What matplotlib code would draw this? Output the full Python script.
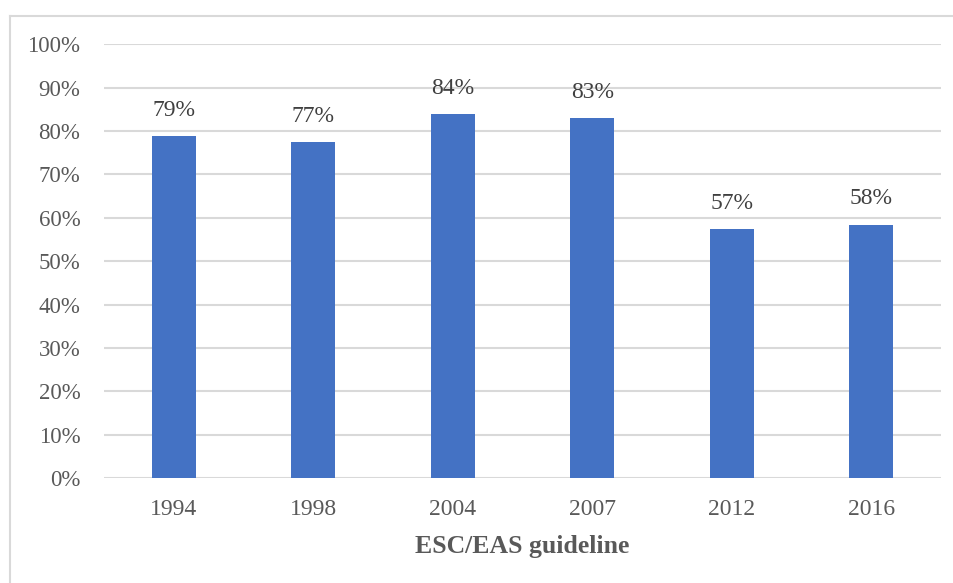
import matplotlib
matplotlib.use("Agg")
import matplotlib.pyplot as plt
from matplotlib.lines import Line2D
from matplotlib.ticker import FuncFormatter

categories = ["1994", "1998", "2004", "2007", "2012", "2016"]
values = [78.8, 77.4, 83.9, 83.0, 57.4, 58.4]
labels = ["79%", "77%", "84%", "83%", "57%", "58%"]
yticks = [0, 10, 20, 30, 40, 50, 60, 70, 80, 90, 100]
xlabel = "ESC/EAS guideline"

plt.rcParams['font.family'] = ['Liberation Serif', 'DejaVu Serif']

W, H = 954, 583
fig = plt.figure(figsize=(W / 100, H / 100), dpi=100)
ax = fig.add_axes([104 / W, 1 - 478 / H, (941 - 104) / W, (478 - 44.3) / H])

x = range(len(categories))
ax.bar(x, values, width=0.316, color="#4472C4", zorder=3)
for i, (v, lab) in enumerate(zip(values, labels)):
    ax.annotate(lab, (i, v), xytext=(0, 11), textcoords="offset points",
                ha="center", va="bottom", fontsize=17, color="#404040")

ax.set_xlim(-0.5, len(categories) - 0.5)
ax.set_ylim(0, 100)
ax.set_yticks(yticks)
ax.yaxis.set_major_formatter(FuncFormatter(lambda v, p: f"{int(v)}%"))
ax.set_xticks(list(x))
ax.set_xticklabels(categories)
ax.tick_params(axis="x", length=0, labelsize=17, labelcolor="#595959", pad=15)
ax.tick_params(axis="y", length=0, labelsize=16.5, labelcolor="#595959", pad=17)
ax.grid(axis="y", color="#D9D9D9", linewidth=1.5, zorder=0)
for s in ax.spines.values():
    s.set_visible(False)
ax.set_xlabel(xlabel, fontsize=18.5, fontweight="bold", color="#595959", labelpad=11)

# chart border (left and top)
fig.add_artist(Line2D([10 / W, 10 / W], [0, 1 - 15.7 / H], transform=fig.transFigure,
                      color="#D9D9D9", linewidth=1.5))
fig.add_artist(Line2D([10 / W, 1], [1 - 15.7 / H, 1 - 15.7 / H], transform=fig.transFigure,
                      color="#D9D9D9", linewidth=1.5))

fig.savefig("out.png", dpi=100, facecolor="white")
